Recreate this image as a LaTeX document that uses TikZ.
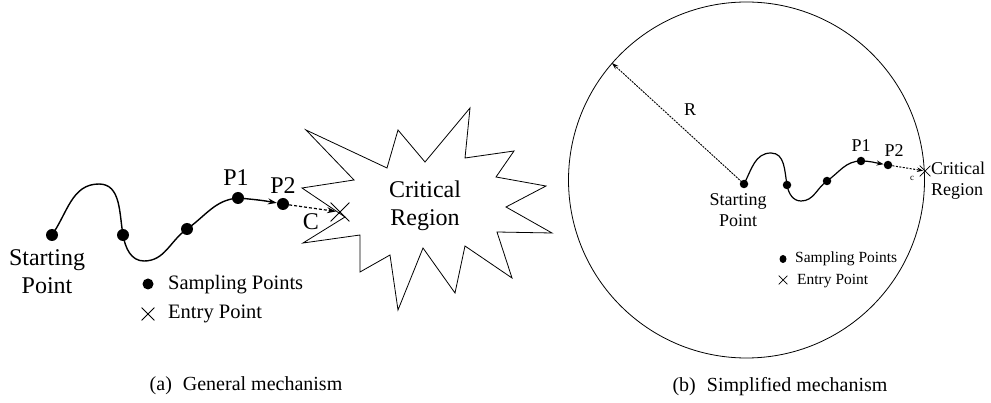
\documentclass[tikz,border=0pt]{standalone}
\usepackage{fontspec}
\setmainfont{LiberationSerif}[Extension=.ttf, UprightFont=*-Regular, BoldFont=*-Bold, ItalicFont=*-Italic]
\usetikzlibrary{arrows.meta,shapes.misc,shapes.geometric}
\begin{document}
\begin{tikzpicture}[x=1pt,y=1pt,
  every node/.style={font=\rmfamily},
  lbla/.style={font=\rmfamily\fontsize{24}{28}\selectfont, inner sep=0pt, align=center},
  lblb/.style={font=\rmfamily\fontsize{18}{21}\selectfont, inner sep=0pt, align=center},
  lega/.style={font=\rmfamily\fontsize{20.5}{24}\selectfont, inner sep=0pt, anchor=west},
  legb/.style={font=\rmfamily\fontsize{15.5}{18}\selectfont, inner sep=0pt, anchor=west},
  capt/.style={font=\rmfamily\fontsize{20}{24}\selectfont, inner sep=0pt},
  dota/.style={circle, fill=black, inner sep=0pt, minimum size=12pt},
  dotb/.style={circle, fill=black, inner sep=0pt, minimum size=8.5pt},
  crossa/.style={cross out, draw, line width=0.8pt, inner sep=0pt, minimum size=18pt},
  crossb/.style={cross out, draw, line width=0.7pt, inner sep=0pt, minimum size=10pt},
  curvea/.style={line width=1.4pt, -{Stealth[length=9pt,width=6pt]}},
  curveb/.style={line width=1.2pt, -{Stealth[length=7pt,width=5pt]}},
  dasharra/.style={line width=1.2pt, dash pattern=on 3pt off 2pt, -{Stealth[length=9pt,width=6pt]}, shorten >=4pt},
  dasharrb/.style={line width=1pt, dash pattern=on 2pt off 1.5pt, -{Stealth[length=6pt,width=4.5pt]}, shorten >=2pt},
  rarr/.style={line width=0.9pt, dash pattern=on 2pt off 1pt, -{Stealth[length=7pt,width=4.5pt]}},
  burst/.style={line width=0.8pt, line join=miter}
]
\useasboundingbox (0,0) rectangle (991,-403);

% ---------- panel (a) ----------
\draw[burst] (306,-130) -- (387,-168) -- (398,-130) -- (425,-162) -- (470,-108)
  -- (465,-158) -- (514,-151) -- (496,-177) -- (546,-186) -- (506,-207)
  -- (552,-233) -- (497,-232) -- (512,-278) -- (465,-246) -- (455,-293)
  -- (423,-248) -- (398,-310) -- (390,-255) -- (360,-272) -- (360,-235)
  -- (303,-243) -- (345,-217) -- (302,-188) -- (354,-180) -- cycle;
\node[lbla] (lcra) at (425,-206) {Critical\\Region};

\node[dota] (sa) at (52,-235) {};
\node[dota] (da2) at (123,-235) {};
\node[dota] (da3) at (187,-229) {};
\node[dota] (pa1) at (238,-198) {};
\node[dota] (pa2) at (283,-204) {};
\coordinate (pka) at (99,-184);
\coordinate (tra) at (144,-261);
\node[crossa] (xa) at (340,-212) {};

\draw[curvea] (sa.center) to[out=55,in=180] (pka) to[out=0,in=100] (da2.center)
  to[out=-80,in=180] (tra) to[out=0,in=215] (da3.center)
  to[out=35,in=185] (pa1.center) to[out=-5,in=170] (pa2);
\draw[dasharra] (pa2) -- (xa.center);

\node[lbla] (lsa) at (47,-272) {Starting\\Point};
\node[lbla] (lpa1) at (236,-178) {P1};
\node[lbla] (lpa2) at (283,-186) {P2};
\node[lbla] (lca) at (311,-222) {C};

\node[dota, minimum size=11pt] (lda) at (148,-284) {};
\node[lega] (ltda) at (168,-285) {Sampling Points};
\node[crossa, minimum size=12pt] (lxa) at (148,-314) {};
\node[lega] (ltxa) at (168,-314) {Entry Point};

\node[capt] (capa) at (246,-386) {(a)\hspace{0.55em}General mechanism};

% ---------- panel (b) ----------
\node[circle, draw, line width=0.8pt, minimum size=356pt, inner sep=0pt] (circ) at (746.5,-180) {};

\node[dotb] (sb) at (744,-184) {};
\coordinate (pkb) at (771,-153);
\node[dotb] (db2) at (787,-185) {};
\coordinate (trb) at (801,-201);
\node[dotb] (db3) at (827,-181) {};
\node[dotb] (pb1) at (861,-161) {};
\node[dotb] (pb2) at (888,-165) {};
\node[crossb] (xb) at (925,-171) {};

\draw[rarr] (sb.center) -- (circ.139);
\draw[curveb] (sb.center) to[out=62,in=180] (pkb) to[out=0,in=100] (db2.center)
  to[out=-80,in=180] (trb) to[out=0,in=215] (db3.center)
  to[out=35,in=180] (pb1.center) to[out=0,in=170] (pb2);
\draw[dasharrb] (pb2) -- (xb.center);

\node[lblb] (lr) at (690,-110) {R};
\node[lblb] (lsb) at (738,-210) {Starting\\Point};
\node[lblb] (lpb1) at (861,-146) {P1};
\node[lblb] (lpb2) at (894,-151) {P2};
\node[font=\rmfamily\fontsize{9}{10}\selectfont, inner sep=0pt] (lcb) at (912,-178) {c};
\node[lblb, align=left, anchor=west] (lcrb) at (931,-181) {Critical\\Region};

\node[ellipse, fill=black, inner sep=0pt, minimum width=7pt, minimum height=8pt] (ldb) at (783,-259) {};
\node[legb] (ltdb) at (795,-259) {Sampling Points};
\node[crossb, minimum size=8pt] (lxb) at (783,-280) {};
\node[legb] (ltxb) at (797,-281) {Entry Point};

\node[capt] (capb) at (780,-387) {(b)\hspace{0.55em}Simplified mechanism};
\end{tikzpicture}
\end{document}
